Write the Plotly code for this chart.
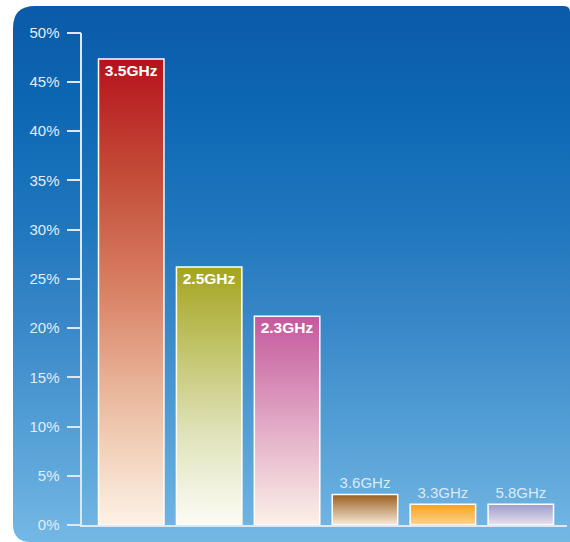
import base64
import plotly.graph_objects as go

# ---- data ----
categories = ["3.5GHz", "2.5GHz", "2.3GHz", "3.6GHz", "3.3GHz", "5.8GHz"]
values = [47.3, 26.2, 21.2, 3.1, 2.1, 2.1]
label_inside = [True, True, True, False, False, False]
y_ticks = [0, 5, 10, 15, 20, 25, 30, 35, 40, 45, 50]
y_tick_labels = [f"{t}%" for t in y_ticks]

# gradient colours per bar, from bottom (0) to top (1)
bar_gradients = [
    [[0, "#fdf2e6"], [0.25, "#ecbfa4"], [0.5, "#d98266"], [0.75, "#c44c38"], [1, "#b6121c"]],
    [[0, "#fcfcf6"], [0.35, "#e0e3ba"], [0.7, "#c0c266"], [1, "#a4a41e"]],
    [[0, "#fcf1e8"], [0.4, "#e6b6cc"], [0.75, "#d27fb0"], [1, "#c6579e"]],
    [[0, "#f8ecdc"], [1, "#9a5e1c"]],
    [[0, "#ffd590"], [1, "#f6a11e"]],
    [[0, "#e8e2ec"], [1, "#9c9bcb"]],
]

FONT = "Liberation Sans, Arial, Helvetica, sans-serif"
LINE_COLOR = "#dce9f5"
BAR_WIDTH = 0.84

positions = list(range(len(categories)))

# ---- background panel (rounded, vertical blue gradient) ----
W, H = 570, 542
svg = f"""<svg xmlns='http://www.w3.org/2000/svg' width='{W}' height='{H}' viewBox='0 0 {W} {H}' preserveAspectRatio='none'>
<defs><linearGradient id='g' x1='0' y1='0' x2='0' y2='1'>
<stop offset='0' stop-color='#0a5aa8'/>
<stop offset='0.2' stop-color='#0e68b4'/>
<stop offset='0.4' stop-color='#1e76bd'/>
<stop offset='0.6' stop-color='#3a88c8'/>
<stop offset='0.8' stop-color='#55a0d6'/>
<stop offset='1' stop-color='#74b8e5'/>
</linearGradient></defs>
<path d='M13,28 Q13,6 35,6 L564,6 Q570,6 570,12 L570,542 L31,542 Q13,542 13,524 Z' fill='url(#g)'/>
</svg>"""
bg_src = "data:image/svg+xml;base64," + base64.b64encode(svg.encode()).decode()

fig = go.Figure()

# gradient fills of the bars
for pos, val, grad in zip(positions, values, bar_gradients):
    x0, x1 = pos - BAR_WIDTH / 2, pos + BAR_WIDTH / 2
    fig.add_trace(go.Scatter(
        x=[x0, x1, x1, x0, x0], y=[0, 0, val, val, 0],
        mode="lines", fill="toself", line=dict(width=0),
        fillgradient=dict(type="vertical", colorscale=grad),
        hoverinfo="skip", showlegend=False, xaxis="x", yaxis="y",
    ))

# bar outlines and labels (drawn on an overlaid subplot so they sit on top)
fig.add_trace(go.Bar(
    x=positions, y=values, width=BAR_WIDTH,
    marker=dict(color="rgba(0,0,0,0)", line=dict(color="white", width=1.5)),
    text=[f"<b>{c}</b>" if ins else c for c, ins in zip(categories, label_inside)],
    textposition=["inside" if ins else "outside" for ins in label_inside],
    insidetextanchor="end",
    insidetextfont=dict(family=FONT, size=15.5, color="white"),
    outsidetextfont=dict(family=FONT, size=15, color="#dceaf7"),
    constraintext="none", cliponaxis=False,
    hovertext=categories, hoverinfo="text+y",
    showlegend=False, xaxis="x2", yaxis="y2",
))

x_range = [-0.628, 5.589]
y_range = [0, 50]

fig.update_layout(
    width=W, height=H,
    margin=dict(l=0, r=0, t=0, b=0),
    paper_bgcolor="white", plot_bgcolor="rgba(0,0,0,0)",
    showlegend=False,
    font=dict(family=FONT),
    xaxis=dict(domain=[0.1444, 0.9942], range=x_range, showgrid=False, zeroline=False,
               showticklabels=False, ticks="", showline=True, linecolor=LINE_COLOR,
               linewidth=1.5, automargin=False, fixedrange=True),
    yaxis=dict(domain=[0.03137, 0.9400], range=y_range, tickmode="array",
               tickvals=y_ticks, ticktext=y_tick_labels, ticks="outside", ticklen=14,
               tickwidth=1.5, tickcolor=LINE_COLOR, showline=True, linecolor=LINE_COLOR,
               linewidth=1.5, showgrid=False, zeroline=False, automargin=False,
               ticklabelstandoff=4,
               tickfont=dict(family=FONT, size=15, color="#e2edf8"), fixedrange=True),
    xaxis2=dict(overlaying="x", range=x_range, visible=False, fixedrange=True),
    yaxis2=dict(overlaying="y", range=y_range, visible=False, fixedrange=True),
    images=[dict(source=bg_src, xref="paper", yref="paper", x=0, y=1, sizex=1, sizey=1,
                 xanchor="left", yanchor="top", sizing="stretch", layer="below")],
)

fig.write_html("out.html")
